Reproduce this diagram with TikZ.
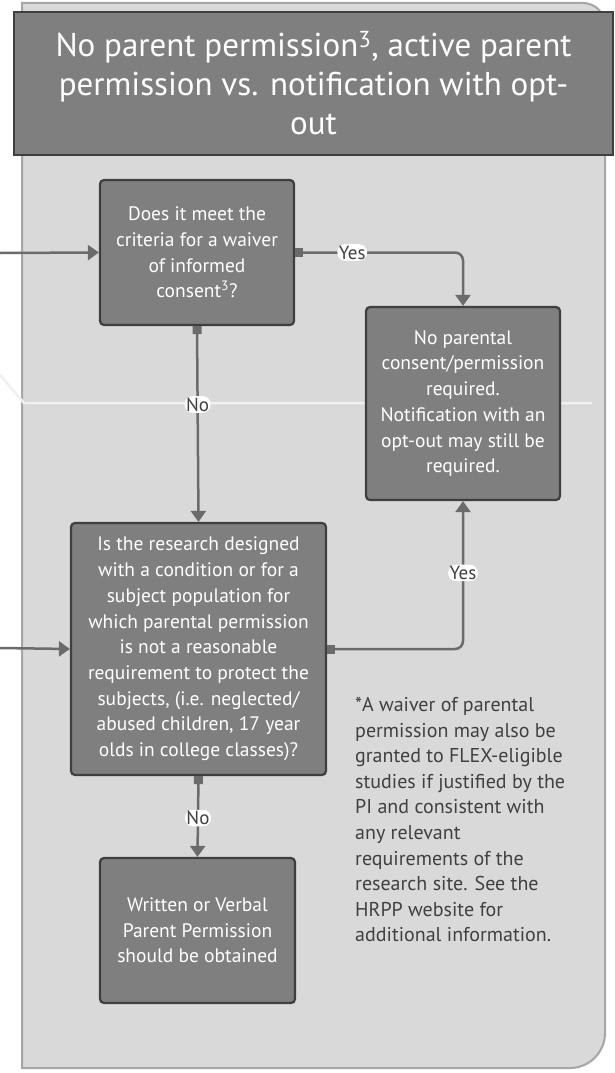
\documentclass[tikz,border=0pt]{standalone}
\usepackage{fontspec}
\setmainfont{PT Sans}
\usetikzlibrary{arrows.meta,positioning}
\definecolor{panelfill}{HTML}{D9D9D9}
\definecolor{panelline}{HTML}{A6A6A6}
\definecolor{boxfill}{HTML}{7F7F7F}
\definecolor{boxline}{HTML}{3F3F3F}
\definecolor{linkcol}{HTML}{6B6B6B}
\definecolor{notecol}{HTML}{404040}

\begin{document}
\begin{tikzpicture}[x=1pt, y=-1pt, >={Triangle[length=11pt,width=15pt]},
	qbox/.style={draw=boxline, fill=boxfill, line width=2.2pt, rounded corners=4pt, text=white, align=center, inner sep=0pt, font=\fontsize{19.5}{25.7}\selectfont},
	link/.style={draw=linkcol, line width=2.5pt, rounded corners=8pt, {Square[length=8pt,width=9pt]}->},
	lbl/.style={fill=white, text=notecol, inner sep=1.5pt, font=\fontsize{19}{22}\selectfont}]
	\useasboundingbox (0,0) rectangle (614,1073);
	% back panel
	\draw[fill=panelfill, draw=panelline, line width=2pt] (22,1068) -- (22,3) [rounded corners=22pt] -- (605,3) [rounded corners=35pt] -- (605,1068) [sharp corners] -- cycle;
	\draw[white!88!gray, line width=2.5pt] (0,375) -- (24,403) -- (592,403);
	% title
	\node[draw=boxline, fill=boxfill, line width=2.2pt, minimum width=599pt, minimum height=143pt, inner sep=0pt] (head) at (313.5,83.5) {};
	\node[text=white, align=center, font=\fontsize{33}{39}\selectfont] (title) at (head) {No parent permission\textsuperscript{3}, active parent\\permission vs. notification with opt-\\out};
	% boxes
	\node[qbox, minimum width=194pt, minimum height=145pt] (waiver) at (197,252.5) {Does it meet the\\criteria for a waiver\\of informed\\consent\textsuperscript{3}?};
	\node[qbox, minimum width=194pt, minimum height=193pt] (nocons) at (463,403.5) {No parental\\consent/permission\\required.\\Notification with an\\opt-out may still be\\required.};
	\node[qbox, minimum width=255pt, minimum height=252pt] (design) at (198.5,649) {Is the research designed\\with a condition or for a\\subject population for\\which parental permission\\is not a reasonable\\requirement to protect the\\subjects, (i.e. neglected/\\abused children, 17 year\\olds in college classes)?};
	\node[qbox, minimum width=195pt, minimum height=145pt] (written) at (197.5,930.5) {Written or Verbal\\Parent Permission\\should be obtained};
	\node[anchor=north west, align=left, text=notecol, inner sep=0pt, font=\fontsize{20}{25.6}\selectfont] (note) at (355,697) {*A waiver of parental\\permission may also be\\granted to FLEX-eligible\\studies if justified by the\\PI and consistent with\\any relevant\\requirements of the\\research site. See the\\HRPP website for\\additional information.};
	% connectors
	\coordinate (in1) at (0,253);
	\coordinate (in2) at (0,648);
	\draw[draw=linkcol, line width=2.5pt, ->] (in1) -- (waiver.west);
	\draw[draw=linkcol, line width=2.5pt, ->] (in2) -- (design.west);
	\draw[link] (waiver.east) -| node[lbl, pos=0.17] {Yes} (nocons.north);
	\draw[link] (waiver.south) -- node[lbl, pos=0.4] {No} (design.north);
	\draw[link] (design.east) -| node[lbl, pos=0.757] {Yes} (nocons.south);
	\draw[link] (design.south) -- node[lbl, pos=0.52] {No} (written.north);
\end{tikzpicture}
\end{document}
